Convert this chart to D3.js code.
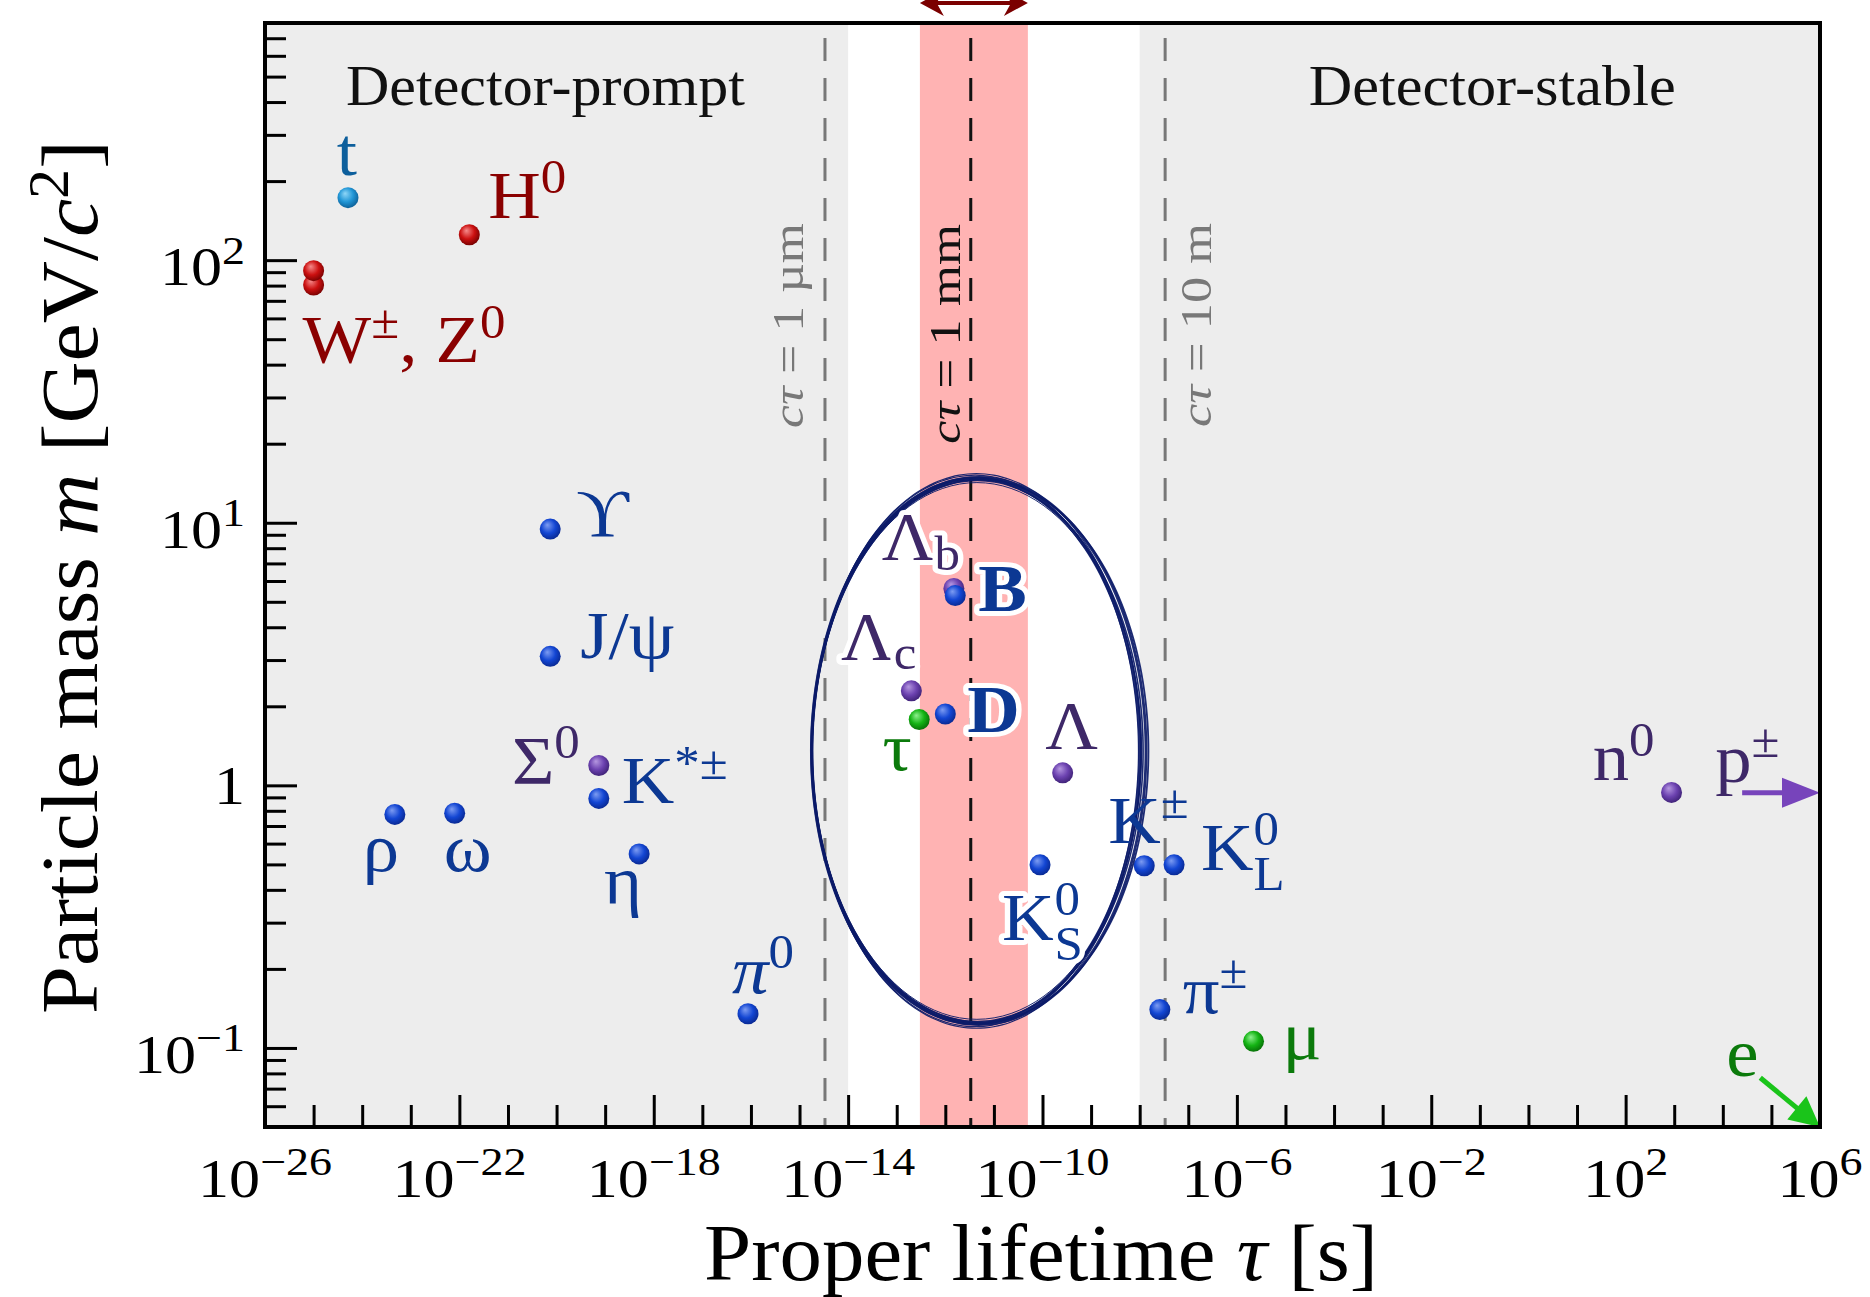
<!DOCTYPE html>
<html>
<head>
<meta charset="utf-8">
<script src="https://cdn.jsdelivr.net/npm/d3@7"></script>
<style>
  body { margin: 0; background: #fff; }
  text { font-family: "Liberation Serif", "DejaVu Serif", serif; }
</style>
</head>
<body>
<svg id="chart"></svg>
<script>
// ---- data ----
const particleNames = ["W", "Z", "t", "H", "rho", "omega", "Upsilon", "Jpsi", "Sigma0", "Kstar", "eta", "pi0",
  "Lambda_c", "tau", "D", "Lambda_b", "B", "Lambda", "K0S", "Kpm", "K0L", "pipm", "mu", "n"];
// proper lifetime [s]
const lifetimes = [1.0e-25, 1.0e-25, 5.1e-25, 1.6e-22, 4.7e-24, 8.0e-23, 7.4e-21, 7.4e-21, 7.4e-20, 7.4e-20, 5.0e-19, 8.7e-17,
  2.0e-13, 2.9e-13, 1.0e-12, 1.5e-12, 1.6e-12, 2.6e-10, 8.9e-11, 1.24e-8, 5.1e-8, 2.6e-8, 2.2e-6, 880];
// mass [GeV/c^2]
const masses = [80.4, 91.2, 173, 125, 0.775, 0.783, 9.46, 3.10, 1.19, 0.892, 0.548, 0.135,
  2.29, 1.78, 1.87, 5.62, 5.28, 1.116, 0.498, 0.494, 0.498, 0.140, 0.106, 0.940];
const families = ["boson", "boson", "quark", "boson", "meson", "meson", "meson", "meson", "baryon", "meson", "meson", "meson",
  "baryon", "lepton", "meson", "baryon", "meson", "baryon", "meson", "meson", "meson", "meson", "lepton", "baryon"];
const particleLabels = [
  [{t: "W"}, {t: "±", sup: 1}, {t: ", Z"}, {t: "0", sup: 1}],
  null,
  [{t: "t"}],
  [{t: "H"}, {t: "0", sup: 1}],
  [{t: "ρ"}],
  [{t: "ω"}],
  [{t: "ϒ"}],
  [{t: "J/ψ"}],
  [{t: "Σ"}, {t: "0", sup: 1}],
  [{t: "K"}, {t: "*±", sup: 1}],
  [{t: "η"}],
  [{t: "π", it: 1}, {t: "0", sup: 1}],
  [{t: "Λ"}, {t: "c", sub: 1}],
  [{t: "τ"}],
  [{t: "D"}],
  [{t: "Λ"}, {t: "b", sub: 1}],
  [{t: "B"}],
  [{t: "Λ"}],
  [{t: "K"}, {t: "0", sup: 1}, {t: "S", sub: 1, stack: 1}],
  [{t: "K"}, {t: "±", sup: 1}],
  [{t: "K"}, {t: "0", sup: 1}, {t: "L", sub: 1, stack: 1}],
  [{t: "π"}, {t: "±", sup: 1}],
  [{t: "μ"}],
  [{t: "n"}, {t: "0", sup: 1}]
];

// stable particles drawn as arrows running off the chart: [tau, mass] start and end
const stableArrows = [
  {name: "p", label: [{t: "p"}, {t: "±", sup: 1}], from: [2.5e4, 0.938], to: [1e6, 0.938], family: "baryon"},
  {name: "e", label: [{t: "e"}], from: [5.9e4, 0.077], to: [1e6, 0.05], family: "lepton"}
];

const xTickExponents = [-26, -22, -18, -14, -10, -6, -2, 2, 6];
const yTickExponents = [-1, 0, 1, 2];

// detector regions [s]
const promptEdge = 1e-14, stableEdge = 1e-8;
const vertexBand = [3e-13, 5e-11];
const ctauLines = [
  {tau: 3.34e-15, text: "1 µm"},
  {tau: 3.34e-12, text: "1 mm"},
  {tau: 3.34e-8, text: "10 m"}
];
// ellipse around the displaced-vertex particles (centre and half-widths in decades)
const ellipseCentre = {logTau: -11.37, logMass: 0.131, halfTau: 3.38, halfMass: 1.038};

// ---- layout / style ----
const W = 1870, H = 1297;
const margin = {top: 23, right: 50, bottom: 170, left: 265};
const labelSize = 68;
const labelStretch = 1.07, tickStretch = 1.15;
const famStyle = {
  boson:  {grad: ["#f58a8a", "#cc1010", "#700000"], text: "#8a0000"},
  quark:  {grad: ["#8fd6f7", "#2196d6", "#0b5b92"], text: "#0d5f9c"},
  meson:  {grad: ["#7d9cf2", "#1346d3", "#08268c"], text: "#0c3893"},
  baryon: {grad: ["#b597e0", "#6c42b0", "#3b1f72"], text: "#3e2868"},
  lepton: {grad: ["#8ef08e", "#14b414", "#066a06"], text: "#0b7a0b"}
};
const labelLayout = {
  W: {dx: -11, dy: 77, anchor: "start"},
  t: {dx: -1, dy: -23, anchor: "middle"},
  H: {dx: 19, dy: -17, anchor: "start"},
  rho: {dx: -14, dy: 57, anchor: "middle"},
  omega: {dx: 13, dy: 58, anchor: "middle"},
  Upsilon: {dx: 26, dy: 7, anchor: "start"},
  Jpsi: {dx: 30, dy: 2, anchor: "start"},
  Sigma0: {dx: -19, dy: 17, anchor: "end"},
  Kstar: {dx: 23, dy: 5, anchor: "start"},
  eta: {dx: -16, dy: 50, anchor: "middle"},
  pi0: {dx: -16, dy: -21, anchor: "start"},
  Lambda_c: {dx: 5, dy: -32, anchor: "end", halo: 1},
  tau: {dx: -22, dy: 50, anchor: "middle", halo: 1},
  D: {dx: 22, dy: 18, anchor: "start", halo: 1, bold: 1},
  Lambda_b: {dx: 6, dy: -29, anchor: "end", halo: 1},
  B: {dx: 23, dy: 15, anchor: "start", halo: 1, bold: 1},
  Lambda: {dx: 9, dy: -25, anchor: "middle"},
  K0S: {dx: -38, dy: 75, anchor: "start", halo: 1},
  Kpm: {dx: -36, dy: -23, anchor: "start"},
  K0L: {dx: 27, dy: 5, anchor: "start"},
  pipm: {dx: 23, dy: 3, anchor: "start"},
  mu: {dx: 29, dy: 18, anchor: "start"},
  n: {dx: -17, dy: -12, anchor: "end"},
  p: {dx: -27, dy: -11, anchor: "start"},
  e: {dx: -18, dy: -2, anchor: "middle"}
};

const svg = d3.select("#chart").attr("width", W).attr("height", H);
const defs = svg.append("defs");

const x = d3.scaleLog().domain([1e-26, 1e6]).range([margin.left, W - margin.right]);
const y = d3.scaleLog().domain([0.05, 800]).range([H - margin.bottom, margin.top]);
const [x0, x1] = x.range();
const [y0, y1] = [y.range()[1], y.range()[0]]; // top, bottom

Object.entries(famStyle).forEach(([k, s]) => {
  const gr = defs.append("radialGradient").attr("id", "grad-" + k)
    .attr("cx", "45%").attr("cy", "42%").attr("r", "62%").attr("fx", "36%").attr("fy", "30%");
  gr.append("stop").attr("offset", "0%").attr("stop-color", s.grad[0]);
  gr.append("stop").attr("offset", "55%").attr("stop-color", s.grad[1]);
  gr.append("stop").attr("offset", "100%").attr("stop-color", s.grad[2]);
});

// rich text with super/subscripts built from tspans
function richText(text, parts, size, supShift, supSize) {
  let shift = 0;
  const spans = [];
  parts.forEach((p, i) => {
    const target = p.sup ? -(supShift || 0.36) * size : p.sub ? (p.stack ? 0.3 : 0.15) * size : 0;
    const ts = text.append("tspan").text(p.t)
      .attr("dy", target - shift)
      .style("font-size", (p.sup || p.sub ? (supSize || 0.7) * size : size) + "px");
    if (p.it) ts.style("font-style", "italic");
    if (p.stack) ts.attr("dx", -spans[i - 1].node().getComputedTextLength());
    shift = target;
    spans.push(ts);
  });
  return text;
}

function fitWidth(text, target) {
  const w = text.node().getComputedTextLength();
  text.attr("transform", (text.attr("transform") || "") + ` scale(${target / w},1)`);
}

function drawArrow(g, xa, ya, xb, yb, color, width, headL, headW, notch) {
  const ang = Math.atan2(yb - ya, xb - xa);
  const c = Math.cos(ang), s = Math.sin(ang);
  const bx = xb - headL * c, by = yb - headL * s;
  const back = notch ? 0.6 : 0.9;
  g.append("line").attr("x1", xa).attr("y1", ya)
    .attr("x2", xb - headL * back * c).attr("y2", yb - headL * back * s)
    .attr("stroke", color).attr("stroke-width", width);
  const pts = [[xb, yb], [bx - s * headW / 2, by + c * headW / 2]];
  if (notch) pts.push([xb - headL * 0.7 * c, yb - headL * 0.7 * s]);
  pts.push([bx + s * headW / 2, by - c * headW / 2]);
  g.append("polygon").attr("points", pts.map(p => p.join(",")).join(" ")).attr("fill", color);
}

// ---- backgrounds ----
const bg = svg.append("g");
bg.append("rect").attr("x", x0).attr("y", y0).attr("width", x(promptEdge) - x0).attr("height", y1 - y0).attr("fill", "#ededed");
bg.append("rect").attr("x", x(stableEdge)).attr("y", y0).attr("width", x1 - x(stableEdge)).attr("height", y1 - y0).attr("fill", "#ededed");
bg.append("rect").attr("x", x(vertexBand[0])).attr("y", y0).attr("width", x(vertexBand[1]) - x(vertexBand[0]))
  .attr("height", y1 - y0).attr("fill", "#ffb3b3");

// band width arrow above the frame
drawArrow(svg, x(vertexBand[0]) + 20, 3, x(vertexBand[1]), 3, "#7b0000", 4, 24, 26, true);
drawArrow(svg, x(vertexBand[1]) - 20, 3, x(vertexBand[0]), 3, "#7b0000", 4, 24, 26, true);

// region names
const prompt = svg.append("text").attr("transform", `translate(${x0 + 81},105)`)
  .style("font-size", "57px").attr("fill", "#111").text("Detector-prompt");
fitWidth(prompt, 399);
const stable = svg.append("text").attr("transform", `translate(${x(stableEdge) + 169},105)`)
  .style("font-size", "57px").attr("fill", "#111").text("Detector-stable");
fitWidth(stable, 367);

// c tau reference lines
const ctauStyle = [
  {color: "#787878", off: -22, start: 428, len: 205},
  {color: "#111", off: -11, start: 444, len: 220},
  {color: "#787878", off: 46, start: 427, len: 204}
];
ctauLines.forEach((d, i) => {
  const st = ctauStyle[i];
  const xp = x(d.tau);
  svg.append("line").attr("x1", xp).attr("x2", xp).attr("y1", y0).attr("y2", y1)
    .attr("stroke", st.color).attr("stroke-width", 3)
    .attr("stroke-dasharray", "23,17").attr("stroke-dashoffset", 25);
  const t = svg.append("text").attr("transform", `translate(${xp + st.off},${st.start}) rotate(-90)`)
    .attr("fill", st.color).style("font-size", "45px");
  richText(t, [{t: "cτ", it: 1}, {t: " = " + d.text}], 45);
  fitWidth(t, st.len);
});

// ---- axes (ticks inside the frame) ----
const xTicks = d3.range(-26, 7).map(e => Math.pow(10, e));
const xAxis = svg.append("g").attr("transform", `translate(0,${y1})`)
  .call(d3.axisBottom(x).tickValues(xTicks).tickSize(-22).tickFormat(() => ""));
xAxis.select(".domain").remove();
xAxis.selectAll(".tick line").attr("stroke", "#000").attr("stroke-width", 3)
  .attr("y2", d => xTickExponents.includes(Math.round(Math.log10(d))) ? -32 : -22);

const yTicks = [];
d3.range(-2, 3).forEach(e => d3.range(1, 10).forEach(m => {
  const v = m * Math.pow(10, e);
  if (v > 0.05 && v < 800) yTicks.push(v);
}));
const yAxis = svg.append("g").attr("transform", `translate(${x0},0)`)
  .call(d3.axisLeft(y).tickValues(yTicks).tickSize(-21).tickFormat(() => ""));
yAxis.select(".domain").remove();
yAxis.selectAll(".tick line").attr("stroke", "#000").attr("stroke-width", 3)
  .attr("x2", d => Math.abs(Math.log10(d) - Math.round(Math.log10(d))) < 1e-9 ? 32 : 21);

function powerLabel(px, py, e, anchor) {
  const t = svg.append("text")
    .attr("transform", `translate(${px},${py}) scale(${tickStretch},1)`)
    .attr("text-anchor", anchor).attr("fill", "#000").style("font-size", "54px");
  if (e === 0) t.text("1");
  else richText(t, [{t: "10"}, {t: (e < 0 ? "−" : "") + Math.abs(e), sup: 1}], 54, 0.4, 0.74);
}
xTickExponents.forEach(e => powerLabel(x(Math.pow(10, e)), 1197, e, "middle"));
yTickExponents.forEach(e => powerLabel(245, y(Math.pow(10, e)) + (e === 0 ? 19 : 25), e, "end"));

// axis titles
const xTitle = svg.append("text").attr("transform", "translate(1041,1280)").attr("text-anchor", "middle")
  .attr("fill", "#000").style("font-size", "80px");
richText(xTitle, [{t: "Proper lifetime "}, {t: "τ", it: 1}, {t: " [s]"}], 80);
fitWidth(xTitle, 674);
const yTitle = svg.append("text").attr("transform", "translate(97,577) rotate(-90)").attr("text-anchor", "middle")
  .attr("fill", "#000").style("font-size", "80px");
richText(yTitle, [{t: "Particle mass "}, {t: "m", it: 1}, {t: " [GeV/"}, {t: "c", it: 1}, {t: "2", sup: 1}, {t: "]"}], 80);
fitWidth(yTitle, 874);

// ---- particles ----
const particles = particleNames.map((name, i) => ({
  name, tau: lifetimes[i], mass: masses[i], family: families[i], label: particleLabels[i]
}));

svg.append("g").selectAll("circle")
  .data(particles)
  .join("circle")
  .attr("cx", d => x(d.tau))
  .attr("cy", d => y(d.mass))
  .attr("r", 10.5)
  .attr("fill", d => `url(#grad-${d.family})`);

// ellipse around the displaced-vertex region, drawn as a few sketchy passes
// (dc = da keeps the left edge in place and widens the right side)
const ellipsePasses = [
  {dc: 0, da: 0, db: 0, w: 3.4},
  {dc: 0.03, da: 0.03, db: -0.008, w: 1.6},
  {dc: -0.015, da: -0.02, db: 0.012, w: 1.2},
  {dc: 0.06, da: 0.06, db: 0.004, w: 2.8},
  {dc: 0.09, da: 0.08, db: -0.004, w: 1.8},
  {dc: 0.01, da: 0.0, db: 0.018, w: 1.2},
  {dc: 0.02, da: 0.01, db: -0.016, w: 1.0}
];
const ell = svg.append("g");
const angles = d3.range(0, 360, 3).map(a => a * Math.PI / 180);
ellipsePasses.forEach(p => {
  const line = d3.line()
    .x(a => x(Math.pow(10, ellipseCentre.logTau + p.dc + (ellipseCentre.halfTau + p.da) * Math.cos(a))))
    .y(a => y(Math.pow(10, ellipseCentre.logMass + (ellipseCentre.halfMass + p.db) * Math.sin(a))))
    .curve(d3.curveCardinalClosed);
  ell.append("path").attr("d", line(angles))
    .attr("fill", "none").attr("stroke", "#0b1a68").attr("stroke-width", p.w).attr("opacity", 0.92);
});

// stable-particle arrows
stableArrows.forEach(a => {
  const color = a.name === "p" ? "#7744bb" : "#1ac41a";
  drawArrow(svg, x(a.from[0]), y(a.from[1]), x(a.to[0]), y(a.to[1]), color, 5, a.name === "p" ? 38 : 30, 30, false);
});

// frame
svg.append("rect").attr("x", x0).attr("y", y0).attr("width", x1 - x0).attr("height", y1 - y0)
  .attr("fill", "none").attr("stroke", "#000").attr("stroke-width", 4);

// labels
const labels = svg.append("g");
function addLabel(px, py, parts, lay, color) {
  const t = labels.append("text")
    .attr("transform", `translate(${px + lay.dx},${py + lay.dy}) scale(${labelStretch},1)`)
    .attr("text-anchor", lay.anchor)
    .attr("fill", color)
    .style("font-size", labelSize + "px");
  if (lay.bold) t.style("font-weight", "bold");
  if (lay.halo) t.attr("stroke", "#fff").attr("stroke-width", 10).attr("stroke-linejoin", "round").attr("paint-order", "stroke");
  richText(t, parts, labelSize);
}
particles.filter(d => d.label).forEach(d => {
  addLabel(x(d.tau), y(d.mass), d.label, labelLayout[d.name], famStyle[d.family].text);
});
stableArrows.forEach(a => {
  addLabel(x(a.from[0]), y(a.from[1]), a.label, labelLayout[a.name], famStyle[a.family].text);
});
</script>
</body>
</html>
